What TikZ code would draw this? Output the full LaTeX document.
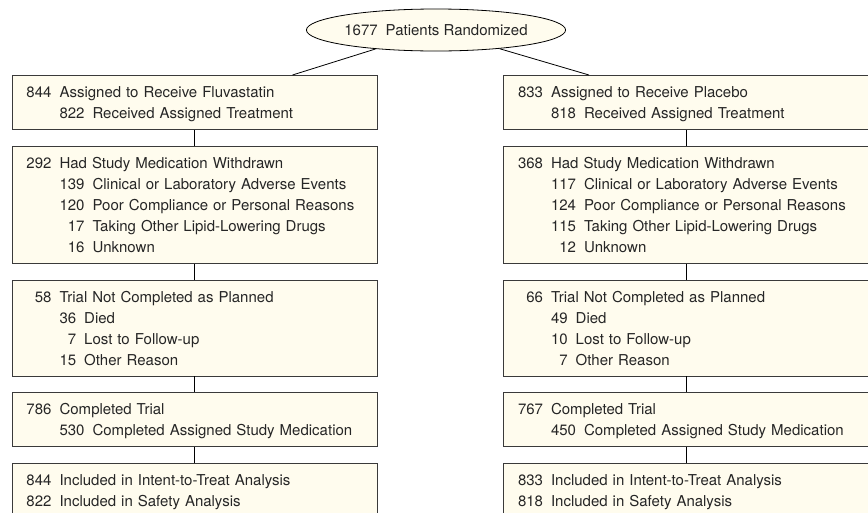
\documentclass[tikz,border=0pt]{standalone}
\usepackage{fontspec}
\setmainfont{TeX Gyre Heros}
\usepackage{xcolor}
\usepackage{tikz}
\usetikzlibrary{positioning}
\usetikzlibrary{shapes.geometric}
\definecolor{boxfill}{HTML}{FFFCEE}
\definecolor{boxline}{HTML}{3A3A3A}
\newcommand{\lstrut}{\rule[-5pt]{0pt}{21pt}}
\newcommand{\ncol}[2]{\hphantom{#1}\llap{#2}}
\newcommand{\mline}[2]{\lstrut\ncol{000}{#1}\hspace{8pt}#2}
\newcommand{\sline}[3]{\lstrut\hphantom{000}\hspace{8pt}\ncol{#1}{#2}\hspace{8pt}#3}

\begin{document}
\begin{tikzpicture}[
			     x=1pt, y=1pt,
			     node distance=16pt,
			     box/.style={draw=boxline, fill=boxfill, line width=0.8pt, minimum width=365pt, text width=336pt, inner xsep=14.5pt, inner ysep=6pt, align=left, text=black!85, font=\fontsize{15}{21}\selectfont},
			     oval/.style={ellipse, draw=black, fill=boxfill, line width=0.8pt, minimum width=236pt, minimum height=42pt, inner sep=0pt, text=black!85, font=\fontsize{15}{21}\selectfont},
			     normal line/.style={-, draw=black, line width=0.8pt}
			     ]
\useasboundingbox (0,0) rectangle (868,-512);
\node[oval] (rand) at (436,-30) {1677\hspace{8pt}Patients Randomized};
%% fluvastatin arm
\node[box, anchor=north] (fl1) at (194.5,-75) {\mline{844}{Assigned to Receive Fluvastatin}\\
  \sline{000}{822}{Received Assigned Treatment}};
\node[box, below=of fl1] (fl2) {\mline{292}{Had Study Medication Withdrawn}\\
  \sline{000}{139}{Clinical or Laboratory Adverse Events}\\
  \sline{000}{120}{Poor Compliance or Personal Reasons}\\
  \sline{000}{17}{Taking Other Lipid-Lowering Drugs}\\
  \sline{000}{16}{Unknown}};
\node[box, below=of fl2] (fl3) {\mline{58}{Trial Not Completed as Planned}\\
  \sline{00}{36}{Died}\\
  \sline{00}{7}{Lost to Follow-up}\\
  \sline{00}{15}{Other Reason}};
\node[box, below=of fl3] (fl4) {\mline{786}{Completed Trial}\\
  \sline{000}{530}{Completed Assigned Study Medication}};
\node[box, below=of fl4] (fl5) {\mline{844}{Included in Intent-to-Treat Analysis}\\
  \mline{822}{Included in Safety Analysis}};
%% placebo arm
\node[box, anchor=north] (pl1) at (686,-75) {\mline{833}{Assigned to Receive Placebo}\\
  \sline{000}{818}{Received Assigned Treatment}};
\node[box, below=of pl1] (pl2) {\mline{368}{Had Study Medication Withdrawn}\\
  \sline{000}{117}{Clinical or Laboratory Adverse Events}\\
  \sline{000}{124}{Poor Compliance or Personal Reasons}\\
  \sline{000}{115}{Taking Other Lipid-Lowering Drugs}\\
  \sline{000}{12}{Unknown}};
\node[box, below=of pl2] (pl3) {\mline{66}{Trial Not Completed as Planned}\\
  \sline{00}{49}{Died}\\
  \sline{00}{10}{Lost to Follow-up}\\
  \sline{00}{7}{Other Reason}};
\node[box, below=of pl3] (pl4) {\mline{767}{Completed Trial}\\
  \sline{000}{450}{Completed Assigned Study Medication}};
\node[box, below=of pl4] (pl5) {\mline{833}{Included in Intent-to-Treat Analysis}\\
  \mline{818}{Included in Safety Analysis}};
\path (rand) edge[normal line] ([xshift=98pt]fl1.north);
\path (rand) edge[normal line] ([xshift=-97pt]pl1.north);
\path (fl1) edge[normal line] (fl2);
\path (fl2) edge[normal line] (fl3);
\path (fl3) edge[normal line] (fl4);
\path (fl4) edge[normal line] (fl5);
\path (pl1) edge[normal line] (pl2);
\path (pl2) edge[normal line] (pl3);
\path (pl3) edge[normal line] (pl4);
\path (pl4) edge[normal line] (pl5);
\end{tikzpicture}
\end{document}
